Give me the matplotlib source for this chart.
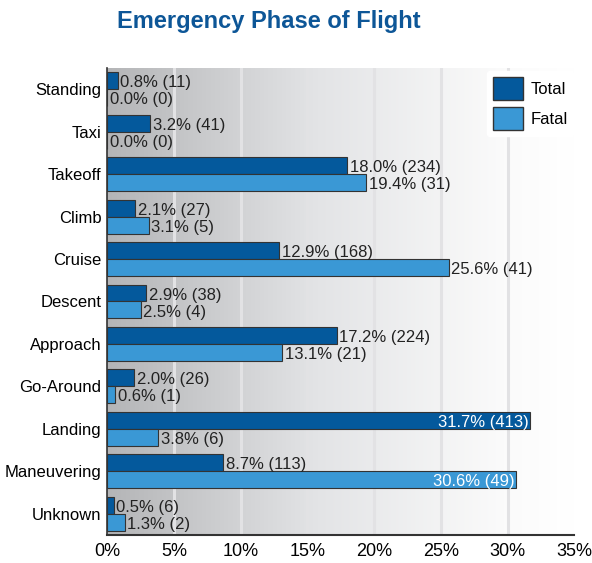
import numpy as np
import matplotlib.pyplot as plt
from matplotlib.patches import Patch
from matplotlib.colors import LinearSegmentedColormap

# phase data
phases = ['Standing', 'Taxi', 'Takeoff', 'Climb', 'Cruise', 'Descent',
          'Approach', 'Go-Around', 'Landing', 'Maneuvering', 'Unknown']
total_pct = [0.8, 3.2, 18.0, 2.1, 12.9, 2.9, 17.2, 2.0, 31.7, 8.7, 0.5]
total_n = [11, 41, 234, 27, 168, 38, 224, 26, 413, 113, 6]
fatal_pct = [0.0, 0.0, 19.4, 3.1, 25.6, 2.5, 13.1, 0.6, 3.8, 30.6, 1.3]
fatal_n = [0, 0, 31, 5, 41, 4, 21, 1, 6, 49, 2]
xticks = [0, 5, 10, 15, 20, 25, 30, 35]

plt.rcParams['font.family'] = ['Liberation Sans', 'DejaVu Sans']

c_total = '#04599c'
c_fatal = '#3a98d5'

fig = plt.figure(figsize=(5.92, 5.63), dpi=100)
ax = fig.add_axes([0.181, 0.050, 0.789, 0.829])

# gray-to-white gradient background
grad = np.linspace(0, 1, 256).reshape(1, -1)
bg = LinearSegmentedColormap.from_list(
    'bg', [(0, '#b4b5b7'), (0.45, '#e3e4e6'), (0.85, '#fbfbfb'), (1, '#ffffff')])
ax.imshow(grad, cmap=bg, extent=[0, 35, len(phases) - 0.5, -0.5], aspect='auto', zorder=0)

for x in xticks[1:-1]:
    ax.axvline(x, color='#e2e2e4', lw=2.2, zorder=1)

y = np.arange(len(phases))
off = 0.2
h = 0.4
ax.barh(y - off, total_pct, height=h, color=c_total, edgecolor='#333333', lw=0.8, zorder=3)
ax.barh(y + off, fatal_pct, height=h, color=c_fatal, edgecolor='#333333', lw=0.8, zorder=3)

fs = 12
for i in range(len(phases)):
    for val, n, yy in [(total_pct[i], total_n[i], y[i] - off), (fatal_pct[i], fatal_n[i], y[i] + off)]:
        txt = f'{val:.1f}% ({n})'
        if val > 28:
            ax.text(val - 0.1, yy + 0.05, txt, ha='right', va='center', color='white', fontsize=fs, zorder=4)
        else:
            ax.text(val + 0.2, yy + 0.05, txt, ha='left', va='center', color='#222222', fontsize=fs, zorder=4)

ax.set_xlim(0, 35)
ax.set_ylim(len(phases) - 0.5, -0.5)
ax.set_yticks(y)
ax.set_yticklabels(phases, fontsize=12)
ax.set_xticks(xticks)
ax.set_xticklabels([f'{t}%' for t in xticks], fontsize=13)
ax.tick_params(length=0, pad=4)
ax.tick_params(axis='x', pad=6)
for s in ['top', 'right']:
    ax.spines[s].set_visible(False)
ax.spines['left'].set_color('#333333')
ax.spines['bottom'].set_color('#333333')
ax.spines['left'].set_linewidth(1.2)
ax.spines['bottom'].set_linewidth(1.5)

handles = [Patch(facecolor=c_total, edgecolor='#333333', label='Total'),
           Patch(facecolor=c_fatal, edgecolor='#333333', label='Fatal')]
ax.legend(handles=handles, loc='upper right', bbox_to_anchor=(1.005, 1.0), frameon=True,
          facecolor='white', edgecolor='white', framealpha=1, fontsize=12,
          handlelength=1.8, handleheight=1.7, borderaxespad=0.15, labelspacing=0.45,
          handletextpad=0.4)

fig.text(0.454, 0.962, 'Emergency Phase of Flight', ha='center', va='center', fontsize=17,
         fontweight='bold', color='#0d5697')

fig.savefig('out.png', dpi=100)
